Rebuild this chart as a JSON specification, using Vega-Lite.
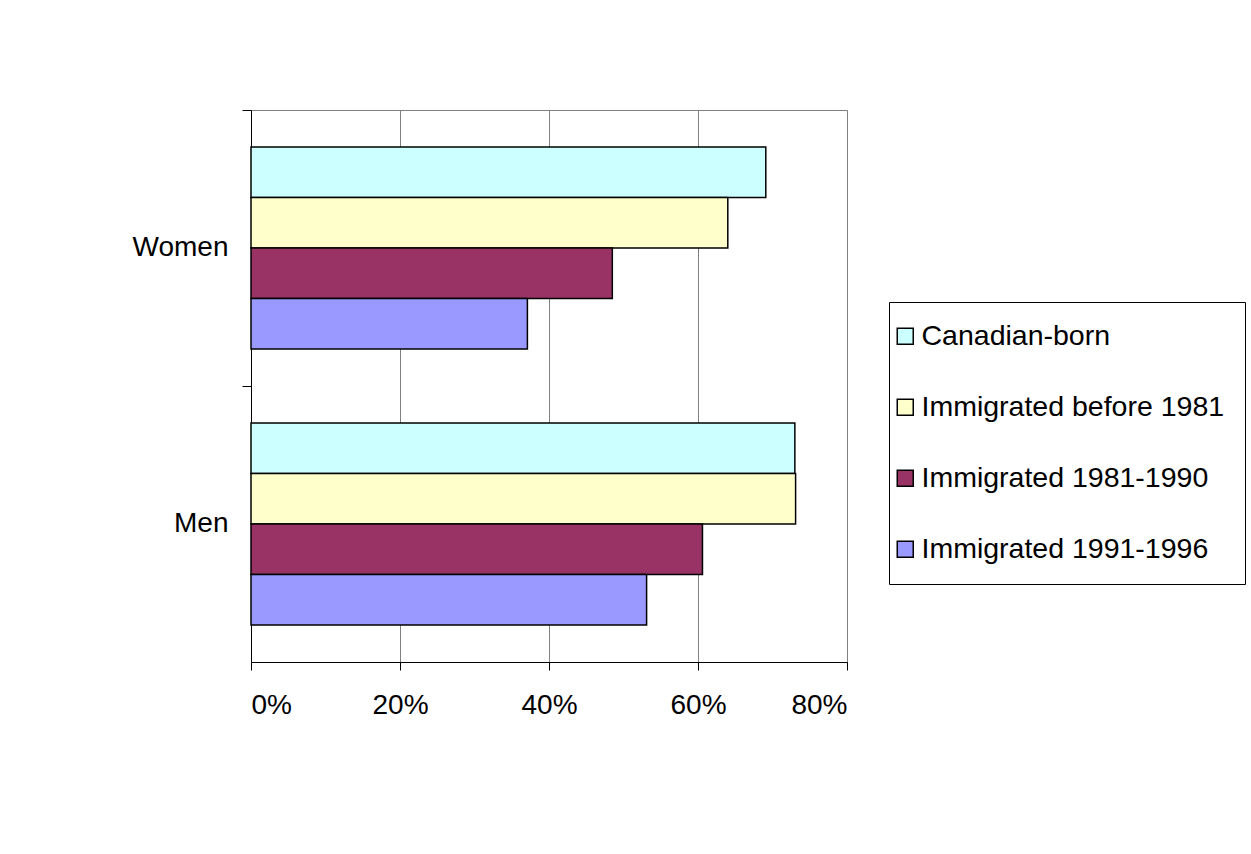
{
  "$schema": "https://vega.github.io/schema/vega-lite/v6.json",
  "width": 596,
  "height": 552,
  "autosize": {"type": "none"},
  "padding": {"left": 251, "top": 110, "right": 404, "bottom": 192},
  "background": "white",
  "data": {
    "values": [
      {"sex": "Women", "group": "Canadian-born", "pct": 69.1},
      {"sex": "Women", "group": "Immigrated before 1981", "pct": 64.0},
      {"sex": "Women", "group": "Immigrated 1981-1990", "pct": 48.5},
      {"sex": "Women", "group": "Immigrated 1991-1996", "pct": 37.1},
      {"sex": "Men", "group": "Canadian-born", "pct": 73.0},
      {"sex": "Men", "group": "Immigrated before 1981", "pct": 73.1},
      {"sex": "Men", "group": "Immigrated 1981-1990", "pct": 60.6},
      {"sex": "Men", "group": "Immigrated 1991-1996", "pct": 53.1}
    ]
  },
  "mark": {"type": "bar", "stroke": "black", "strokeWidth": 1.5},
  "encoding": {
    "y": {
      "field": "sex",
      "type": "nominal",
      "sort": ["Women", "Men"],
      "scale": {"paddingInner": 0, "paddingOuter": 0},
      "axis": {
        "title": null,
        "bandPosition": 0,
        "tickSize": 9,
        "tickColor": "black",
        "domainColor": "black",
        "labelFontSize": 28,
        "labelFont": "Liberation Sans",
        "labelColor": "black",
        "labelPadding": 14,
        "grid": false
      }
    },
    "yOffset": {
      "field": "group",
      "type": "nominal",
      "sort": ["Canadian-born", "Immigrated before 1981", "Immigrated 1981-1990", "Immigrated 1991-1996"],
      "scale": {"paddingInner": 0, "paddingOuter": 0.733}
    },
    "x": {
      "field": "pct",
      "type": "quantitative",
      "scale": {"domain": [0, 80], "nice": false},
      "axis": {
        "title": null,
        "values": [0, 20, 40, 60, 80],
        "labelExpr": "datum.value + '%'",
        "grid": true,
        "gridColor": "#808080",
        "gridOpacity": 1,
        "tickSize": 8,
        "tickColor": "black",
        "domainColor": "black",
        "labelFontSize": 28,
        "labelFont": "Liberation Sans",
        "labelColor": "black",
        "labelPadding": 21
      }
    },
    "color": {
      "field": "group",
      "type": "nominal",
      "scale": {
        "domain": ["Canadian-born", "Immigrated before 1981", "Immigrated 1981-1990", "Immigrated 1991-1996"],
        "range": ["#CCFFFF", "#FFFFCC", "#993366", "#9999FF"]
      },
      "legend": {
        "title": null,
        "orient": "none",
        "legendX": 638,
        "legendY": 192,
        "direction": "vertical",
        "strokeColor": "black",
        "fillColor": "white",
        "padding": 20,
        "symbolType": "square",
        "symbolSize": 256,
        "symbolStrokeColor": "black",
        "symbolStrokeWidth": 1.5,
        "symbolOpacity": 1,
        "symbolOffset": -18,
        "labelFontSize": 28.5,
        "labelFont": "Liberation Sans",
        "labelColor": "black",
        "labelOffset": 2,
        "labelLimit": 400,
        "rowPadding": 42
      }
    }
  },
  "config": {
    "view": {"stroke": "#808080", "strokeWidth": 1},
    "axis": {"domainWidth": 1, "tickWidth": 1, "gridWidth": 1}
  }
}
